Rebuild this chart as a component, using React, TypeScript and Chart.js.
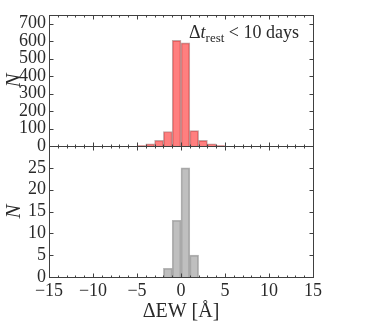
import React, { useEffect, useRef } from "react";
import { Chart, registerables } from "chart.js";

Chart.register(...registerables);

// Histogram data (1 Å bins, left edges)
const topBinLeft = [-5, -4, -3, -2, -1, 0, 1, 2, 3, 4];
const topCounts = [3, 12, 33, 83, 605, 590, 88, 32, 13, 3];
const botBinLeft = [-2, -1, 0, 1];
const botCounts = [2, 13, 25, 5];

const xTicks = [-15, -10, -5, 0, 5, 10, 15];
const yTopTicks = [0, 100, 200, 300, 400, 500, 600, 700];
const yBotTicks = [0, 5, 10, 15, 20, 25];

const SERIF = "'Liberation Serif', 'DejaVu Serif', serif";
const TEXT = "#2a2a2a";
const AXIS = "#404040";

const fmt = (v: number) => (v < 0 ? "\u2212" + Math.abs(v) : String(v));

const framePlugin = {
  id: "frame",
  afterDraw(chart: any) {
    const ctx = chart.ctx;
    const ca = chart.chartArea;
    const x = chart.scales.x;
    const yT = chart.scales.yTop;
    const yB = chart.scales.yBot;
    const mid = Math.round(yT.bottom) + 0.5;
    const L = Math.round(ca.left) + 0.5;
    const R = Math.round(ca.right) + 0.5;
    const T = Math.round(yT.top) + 0.5;
    const B = Math.round(yB.bottom) + 0.5;
    ctx.save();
    ctx.strokeStyle = AXIS;
    ctx.lineWidth = 1;
    ctx.strokeRect(L, T, R - L, mid - T);
    ctx.strokeRect(L, mid, R - L, B - mid);
    ctx.beginPath();
    for (let v = -15; v <= 15; v++) {
      const px = Math.round(x.getPixelForValue(v)) + 0.5;
      const len = v % 5 === 0 ? 4 : 2;
      ctx.moveTo(px, T); ctx.lineTo(px, T + len);
      ctx.moveTo(px, mid - len); ctx.lineTo(px, mid + len);
      ctx.moveTo(px, B); ctx.lineTo(px, B - len);
    }
    for (const v of yTopTicks) {
      const py = Math.round(yT.getPixelForValue(v)) + 0.5;
      ctx.moveTo(L, py); ctx.lineTo(L + 4, py);
      ctx.moveTo(R, py); ctx.lineTo(R - 4, py);
    }
    for (const v of yBotTicks) {
      const py = Math.round(yB.getPixelForValue(v)) + 0.5;
      ctx.moveTo(L, py); ctx.lineTo(L + 4, py);
      ctx.moveTo(R, py); ctx.lineTo(R - 4, py);
    }
    ctx.stroke();

    // y titles
    ctx.fillStyle = TEXT;
    ctx.textAlign = "center";
    ctx.textBaseline = "middle";
    ctx.font = `italic 21px ${SERIF}`;
    for (const sc of [yT, yB]) {
      ctx.save();
      ctx.translate(14, (sc.top + sc.bottom) / 2);
      ctx.rotate(-Math.PI / 2);
      ctx.fillText("N", 0, 0);
      ctx.restore();
    }
    // x title
    ctx.font = `20px ${SERIF}`;
    ctx.fillText("\u0394EW [\u00C5]", (ca.left + ca.right) / 2, 312);

    // annotation
    const parts = [
      { t: "\u0394", f: `18px ${SERIF}`, dy: 0 },
      { t: "t", f: `italic 18px ${SERIF}`, dy: 0 },
      { t: "rest", f: `13px ${SERIF}`, dy: 4 },
      { t: " < 10 days", f: `18px ${SERIF}`, dy: 0 },
    ];
    let total = 0;
    for (const p of parts) { ctx.font = p.f; total += ctx.measureText(p.t).width; }
    let cx = ca.right - 14 - total;
    const base = 38;
    ctx.textAlign = "left";
    ctx.textBaseline = "alphabetic";
    for (const p of parts) {
      ctx.font = p.f;
      ctx.fillText(p.t, cx, base + p.dy);
      cx += ctx.measureText(p.t).width;
    }
    ctx.restore();
  },
};

export default function App() {
  const ref = useRef<HTMLCanvasElement>(null);
  useEffect(() => {
    if (!ref.current) return;
    const chart = new Chart(ref.current, {
      type: "bar",
      data: {
        datasets: [
          {
            data: topBinLeft.map((l, i) => ({ x: l + 0.5, y: topCounts[i] })),
            yAxisID: "yTop",
            backgroundColor: "rgba(255,0,0,0.5)",
            borderColor: "rgba(120,60,60,0.45)",
            borderWidth: 1,
            barPercentage: 1,
            categoryPercentage: 1,
            grouped: false,
          } as any,
          {
            data: botBinLeft.map((l, i) => ({ x: l + 0.5, y: botCounts[i] })),
            yAxisID: "yBot",
            backgroundColor: "rgba(128,128,128,0.5)",
            borderColor: "rgba(110,110,110,0.5)",
            borderWidth: 1,
            barPercentage: 1,
            categoryPercentage: 1,
            grouped: false,
          } as any,
        ],
      },
      options: {
        responsive: false,
        animation: false,
        layout: { padding: { left: 0, right: 56, top: 15, bottom: 0 } },
        plugins: { legend: { display: false }, tooltip: { enabled: false } },
        scales: {
          x: {
            type: "linear",
            offset: false,
            min: -15,
            max: 15,
            grid: { display: false, drawTicks: false, offset: false },
            border: { display: false },
            afterBuildTicks: (s: any) => { s.ticks = xTicks.map((v) => ({ value: v })); },
            afterFit: (s: any) => { s.height = 57; },
            ticks: {
              padding: 3,
              color: TEXT,
              font: { family: SERIF, size: 18 },
              maxRotation: 0,
              autoSkip: false,
              callback: (v: any) => fmt(Number(v)),
            },
          },
          yBot: {
            type: "linear",
            position: "left",
            stack: "panels",
            stackWeight: 1,
            min: 0,
            max: 30,
            grid: { display: false, drawTicks: false },
            border: { display: false },
            afterBuildTicks: (s: any) => { s.ticks = yBotTicks.map((v) => ({ value: v })); },
            afterFit: (s: any) => { s.width = 49; },
            ticks: { padding: 3, color: TEXT, font: { family: SERIF, size: 18 }, autoSkip: false, callback: (v: any) => fmt(Number(v)) },
          },
          yTop: {
            type: "linear",
            position: "left",
            stack: "panels",
            stackWeight: 1,
            min: 0,
            max: 750,
            grid: { display: false, drawTicks: false },
            border: { display: false },
            afterBuildTicks: (s: any) => { s.ticks = yTopTicks.map((v) => ({ value: v })); },
            afterFit: (s: any) => { s.width = 49; },
            ticks: { padding: 3, color: TEXT, font: { family: SERIF, size: 18 }, autoSkip: false, callback: (v: any) => fmt(Number(v)) },
          },
        } as any,
      },
      plugins: [framePlugin],
    });
    return () => chart.destroy();
  }, []);
  return (
    <div style={{ position: "absolute", left: 0, top: 0, width: 369, height: 334, background: "#fff" }}>
      <canvas ref={ref} width={369} height={334} style={{ display: "block", width: 369, height: 334 }} />
    </div>
  );
}
